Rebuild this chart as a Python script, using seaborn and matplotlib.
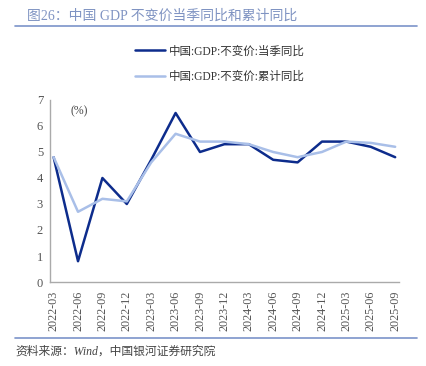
import matplotlib
matplotlib.use("Agg")
import matplotlib.pyplot as plt
import seaborn as sns
import pandas as pd

quarters = ["2022-03", "2022-06", "2022-09", "2022-12", "2023-03", "2023-06", "2023-09",
            "2023-12", "2024-03", "2024-06", "2024-09", "2024-12", "2025-03", "2025-06", "2025-09"]
quarterly_yoy = [4.8, 0.8, 4.0, 3.0, 4.7, 6.5, 5.0, 5.3, 5.3, 4.7, 4.6, 5.4, 5.4, 5.2, 4.8]
cumulative_yoy = [4.8, 2.7, 3.2, 3.1, 4.6, 5.7, 5.4, 5.4, 5.3, 5.0, 4.8, 5.0, 5.4, 5.35, 5.2]
series_names = ["中国:GDP:不变价:当季同比", "中国:GDP:不变价:累计同比"]

sns.set_theme(style="white")
fam = ["Liberation Serif", "Noto Sans CJK SC", "DejaVu Sans"]
plt.rcParams["font.family"] = fam

df = pd.DataFrame({
    "x": list(range(len(quarters))) * 2,
    "value": quarterly_yoy + cumulative_yoy,
    "series": [series_names[0]] * len(quarters) + [series_names[1]] * len(quarters),
})

fig = plt.figure(figsize=(4.27, 3.66), dpi=100)
ax = fig.add_axes([0.117, 0.2295, 0.817, 0.4973])
palette = {series_names[0]: "#0d2c8c", series_names[1]: "#a9bfe8"}
sns.lineplot(data=df, x="x", y="value", hue="series", palette=palette, linewidth=1.8,
             ax=ax, legend=False)

ax.set_xlim(-0.15, len(quarters) - 1 + 0.15)
ax.set_ylim(0, 7)
ax.set_xticks(range(len(quarters)))
ax.set_xticklabels(quarters, rotation=90, fontsize=8.7, color="#555555")
ax.set_yticks(range(0, 8))
ax.set_yticklabels([str(i) for i in range(0, 8)], fontsize=9, color="#555555")
ax.set_xlabel("")
ax.set_ylabel("")
for s in ["top", "right"]:
    ax.spines[s].set_visible(False)
for s in ["left", "bottom"]:
    ax.spines[s].set_color("#aaaaaa")
    ax.spines[s].set_linewidth(1.0)
ax.tick_params(axis="both", which="both", direction="out", length=3, width=0.8,
               color="#aaaaaa", pad=2)
ax.tick_params(axis="x", pad=3)
ax.grid(False)

ax.text(0.06, 0.97, "(%)", transform=ax.transAxes, fontsize=8.5, color="#444444",
        va="top", ha="left")

# legend
from matplotlib.lines import Line2D
handles = [Line2D([0], [0], color=palette[n], lw=1.8) for n in series_names]
fig.legend(handles, series_names, loc="center", bbox_to_anchor=(0.515, 0.825),
           ncol=1, frameon=False, fontsize=8.3, handlelength=2.6, handletextpad=0.4,
           labelspacing=1.15, labelcolor="#333333")

# title & rules
fig.text(0.063, 0.957, "图26：中国 GDP 不变价当季同比和累计同比", fontsize=10,
         color="#7f93c2", va="center", ha="left")
fig.add_artist(Line2D([0.035, 0.977], [0.929, 0.929], transform=fig.transFigure,
                      color="#7b93c9", lw=1.2))
fig.add_artist(Line2D([0.035, 0.977], [0.076, 0.076], transform=fig.transFigure,
                      color="#7b93c9", lw=1.2))
fig.text(0.035, 0.04, "资料来源：Wind，中国银河证券研究院", fontsize=8.5, style="italic",
         color="#444444", va="center", ha="left")

fig.savefig("out.png", dpi=100)
